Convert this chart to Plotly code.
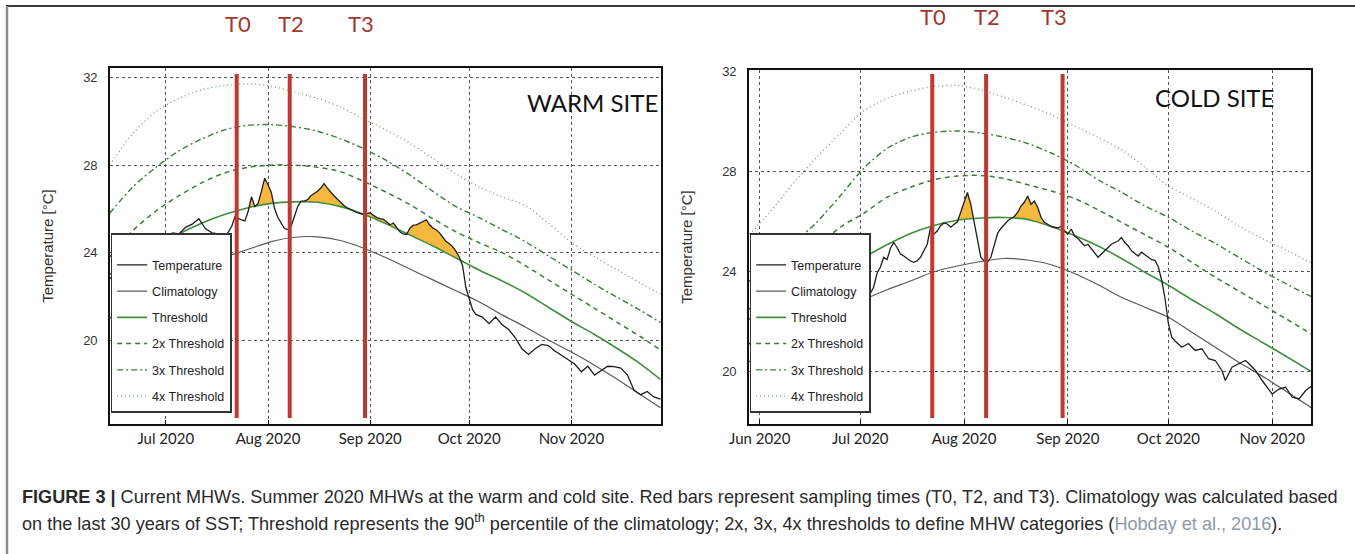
import numpy as np
import plotly.graph_objects as go

# ---------------- WARM SITE ----------------
warm_weeks = ["2020-06-14", "2020-06-21", "2020-06-28", "2020-07-05", "2020-07-12", "2020-07-19",
              "2020-07-26", "2020-08-02", "2020-08-09", "2020-08-16", "2020-08-23", "2020-08-30",
              "2020-09-06", "2020-09-13", "2020-09-20", "2020-09-27", "2020-10-04", "2020-10-11",
              "2020-10-18", "2020-10-25", "2020-11-01", "2020-11-08", "2020-11-15", "2020-11-22",
              "2020-11-28"]
warm_clim = [21.0, 21.8, 22.5, 23.0, 23.45, 23.8, 24.15, 24.5, 24.7, 24.72, 24.55, 24.2, 23.75,
             23.25, 22.75, 22.25, 21.75, 21.15, 20.6, 20.0, 19.45, 18.85, 18.2, 17.5, 16.9]
warm_thresh = [23.0, 23.7, 24.3, 24.85, 25.35, 25.75, 26.05, 26.25, 26.32, 26.3, 26.1, 25.75, 25.3,
               24.8, 24.3, 23.75, 23.2, 22.7, 22.15, 21.5, 20.85, 20.25, 19.6, 18.9, 18.2]
warm_thresh2 = [23.8, 25.0, 25.9, 26.6, 27.2, 27.65, 27.9, 28.0, 28.0, 27.9, 27.7, 27.25, 26.75,
                26.2, 25.55, 24.95, 24.45, 24.0, 23.4, 22.75, 22.1, 21.45, 20.8, 20.15, 19.55]
warm_thresh3 = [25.8, 27.0, 27.9, 28.65, 29.2, 29.62, 29.82, 29.85, 29.75, 29.55, 29.2, 28.75, 28.2,
                27.55, 26.8, 26.1, 25.6, 25.05, 24.5, 23.85, 23.2, 22.55, 21.95, 21.35, 20.8]
warm_thresh4 = [28.0, 29.45, 30.45, 31.05, 31.45, 31.65, 31.72, 31.6, 31.35, 31.05, 30.65, 30.1, 29.6,
                29.0, 28.3, 27.6, 27.0, 26.55, 26.15, 25.35, 24.45, 23.8, 23.2, 22.6, 22.1]

warm_dates = ["2020-06-14", "2020-06-17", "2020-06-20", "2020-06-23", "2020-06-26", "2020-06-29",
              "2020-07-01", "2020-07-03", "2020-07-05", "2020-07-07", "2020-07-09", "2020-07-11",
              "2020-07-13", "2020-07-15", "2020-07-17", "2020-07-19", "2020-07-20", "2020-07-21",
              "2020-07-22", "2020-07-23", "2020-07-24", "2020-07-25", "2020-07-26", "2020-07-27",
              "2020-07-28", "2020-07-29", "2020-07-30", "2020-07-31", "2020-08-01", "2020-08-02",
              "2020-08-03", "2020-08-04", "2020-08-05", "2020-08-06", "2020-08-07", "2020-08-08",
              "2020-08-09", "2020-08-10", "2020-08-11", "2020-08-12", "2020-08-13", "2020-08-14",
              "2020-08-15", "2020-08-16", "2020-08-17", "2020-08-18", "2020-08-19", "2020-08-20",
              "2020-08-21", "2020-08-22", "2020-08-23", "2020-08-24", "2020-08-25", "2020-08-26",
              "2020-08-27", "2020-08-28", "2020-08-29", "2020-08-30", "2020-08-31", "2020-09-01",
              "2020-09-02", "2020-09-03", "2020-09-04", "2020-09-05", "2020-09-06", "2020-09-07",
              "2020-09-08", "2020-09-09", "2020-09-10", "2020-09-11", "2020-09-12", "2020-09-13",
              "2020-09-14", "2020-09-15", "2020-09-16", "2020-09-17", "2020-09-18", "2020-09-19",
              "2020-09-20", "2020-09-21", "2020-09-22", "2020-09-23", "2020-09-24", "2020-09-25",
              "2020-09-26", "2020-09-27", "2020-09-28", "2020-09-29", "2020-09-30", "2020-10-01",
              "2020-10-02", "2020-10-03", "2020-10-05", "2020-10-07", "2020-10-09", "2020-10-11",
              "2020-10-13", "2020-10-15", "2020-10-17", "2020-10-19", "2020-10-21", "2020-10-23",
              "2020-10-25", "2020-10-27", "2020-10-29", "2020-10-31", "2020-11-02", "2020-11-04",
              "2020-11-06", "2020-11-08", "2020-11-10", "2020-11-12", "2020-11-14", "2020-11-16",
              "2020-11-18", "2020-11-20", "2020-11-22", "2020-11-24", "2020-11-26", "2020-11-28"]
warm_temp = [22.8, 23.2, 23.0, 23.6, 24.0, 24.3,
             24.6, 24.9, 24.85, 25.15, 25.3, 25.55,
             25.1, 24.9, 24.85, 24.75, 24.95, 25.2,
             25.65, 25.55, 25.5, 25.45, 25.9, 26.55,
             26.1, 26.25, 26.8, 27.4, 27.1, 26.75,
             26.0, 25.6, 25.35, 25.1, 25.05, 25.2,
             25.65, 26.1, 26.35, 26.35, 26.42, 26.6,
             26.7, 26.8, 26.95, 27.15, 26.95, 26.75,
             26.6, 26.45, 26.3, 26.15, 26.05, 25.97,
             25.9, 25.82, 25.78, 25.74, 25.78, 25.82,
             25.7, 25.6, 25.55, 25.52, 25.4, 25.27,
             25.35, 25.12, 24.95, 24.85, 24.82, 25.1,
             25.25, 25.27, 25.35, 25.42, 25.5, 25.27,
             25.12, 25.04, 24.9, 24.7, 24.5, 24.4,
             24.27, 24.05, 23.8, 23.4, 22.4, 21.9,
             21.4, 21.17, 21.05, 20.75, 21.05, 20.7,
             20.48, 20.1, 19.6, 19.34, 19.6, 19.8,
             19.75, 19.5, 19.3, 19.1, 18.9, 18.55,
             18.8, 18.4, 18.6, 18.8, 18.78, 18.72,
             18.4, 17.7, 17.5, 17.65, 17.4, 17.3]
warm_events = [("2020-07-26", "2020-08-04"), ("2020-08-11", "2020-09-10"), ("2020-09-11", "2020-09-30")]

# ---------------- COLD SITE ----------------
cold_weeks = ["2020-05-28", "2020-06-04", "2020-06-11", "2020-06-18", "2020-06-25", "2020-07-02",
              "2020-07-09", "2020-07-16", "2020-07-23", "2020-07-30", "2020-08-06", "2020-08-13",
              "2020-08-20", "2020-08-27", "2020-09-03", "2020-09-10", "2020-09-17", "2020-09-24",
              "2020-10-01", "2020-10-08", "2020-10-15", "2020-10-22", "2020-10-29", "2020-11-05",
              "2020-11-13"]
cold_clim = [20.3, 20.9, 21.45, 21.95, 22.4, 22.85, 23.25, 23.6, 23.97, 24.2, 24.38, 24.5, 24.44,
             24.25, 23.9, 23.45, 22.95, 22.55, 22.15, 21.55, 20.95, 20.35, 19.8, 19.2, 18.5]
cold_thresh = [22.0, 22.6, 23.2, 23.7, 24.15, 24.55, 25.05, 25.5, 25.82, 26.03, 26.12, 26.14, 26.06,
               25.78, 25.42, 25.0, 24.5, 23.95, 23.43, 22.85, 22.3, 21.7, 21.15, 20.6, 19.95]
cold_thresh2 = [22.4, 23.1, 23.9, 24.9, 25.75, 26.3, 26.95, 27.35, 27.65, 27.8, 27.82, 27.7, 27.45,
                27.2, 26.9, 26.45, 25.95, 25.45, 24.95, 24.35, 23.75, 23.2, 22.65, 22.1, 21.45]
cold_thresh3 = [23.5, 24.3, 25.1, 25.95, 27.0, 28.1, 28.9, 29.35, 29.55, 29.6, 29.52, 29.35, 29.1,
                28.72, 28.25, 27.65, 27.15, 26.6, 26.15, 25.6, 25.1, 24.55, 24.0, 23.5, 22.95]
cold_thresh4 = [25.35, 26.35, 27.5, 28.55, 29.5, 30.4, 30.9, 31.2, 31.38, 31.42, 31.25, 30.95, 30.62,
                30.25, 29.8, 29.35, 28.85, 28.15, 27.4, 26.9, 26.4, 25.8, 25.3, 24.85, 24.3]

cold_dates = ["2020-05-28", "2020-06-01", "2020-06-05", "2020-06-09", "2020-06-13", "2020-06-17",
              "2020-06-21", "2020-06-25", "2020-06-29", "2020-07-02", "2020-07-04", "2020-07-05",
              "2020-07-06", "2020-07-07", "2020-07-08", "2020-07-09", "2020-07-10", "2020-07-11",
              "2020-07-12", "2020-07-13", "2020-07-14", "2020-07-15", "2020-07-16", "2020-07-17",
              "2020-07-18", "2020-07-19", "2020-07-20", "2020-07-21", "2020-07-22", "2020-07-23",
              "2020-07-24", "2020-07-25", "2020-07-26", "2020-07-27", "2020-07-28", "2020-07-29",
              "2020-07-30", "2020-07-31", "2020-08-01", "2020-08-02", "2020-08-03", "2020-08-04",
              "2020-08-05", "2020-08-06", "2020-08-07", "2020-08-08", "2020-08-09", "2020-08-10",
              "2020-08-11", "2020-08-12", "2020-08-13", "2020-08-14", "2020-08-15", "2020-08-16",
              "2020-08-17", "2020-08-18", "2020-08-19", "2020-08-20", "2020-08-21", "2020-08-22",
              "2020-08-23", "2020-08-24", "2020-08-25", "2020-08-26", "2020-08-27", "2020-08-28",
              "2020-08-29", "2020-08-30", "2020-08-31", "2020-09-01", "2020-09-02", "2020-09-03",
              "2020-09-04", "2020-09-05", "2020-09-06", "2020-09-07", "2020-09-08", "2020-09-09",
              "2020-09-10", "2020-09-11", "2020-09-12", "2020-09-13", "2020-09-14", "2020-09-15",
              "2020-09-16", "2020-09-17", "2020-09-18", "2020-09-19", "2020-09-20", "2020-09-21",
              "2020-09-22", "2020-09-23", "2020-09-24", "2020-09-25", "2020-09-26", "2020-09-27",
              "2020-09-28", "2020-09-29", "2020-09-30", "2020-10-01", "2020-10-02", "2020-10-03",
              "2020-10-05", "2020-10-07", "2020-10-09", "2020-10-11", "2020-10-13", "2020-10-15",
              "2020-10-17", "2020-10-18", "2020-10-20", "2020-10-22", "2020-10-24", "2020-10-25",
              "2020-10-27", "2020-10-29", "2020-11-01", "2020-11-03", "2020-11-05", "2020-11-07",
              "2020-11-09", "2020-11-11", "2020-11-13"]
cold_temp = [21.0, 21.4, 21.8, 22.3, 22.1, 22.6,
             22.9, 22.7, 23.0, 23.2, 23.1, 23.35,
             23.9, 24.15, 24.55, 24.45, 24.9, 25.14,
             24.94, 24.68, 24.6, 24.5, 24.4, 24.35,
             24.41, 24.55, 24.8, 25.07, 25.74, 25.48,
             25.6, 25.81, 25.92, 25.88, 25.75, 25.85,
             25.97, 26.35, 26.74, 27.14, 26.67, 26.0,
             25.21, 24.55, 24.41, 24.35, 24.55, 25.07,
             25.5, 25.7, 25.87, 26.0, 26.1, 26.18,
             26.34, 26.6, 26.75, 27.0, 26.67, 26.8,
             26.54, 26.14, 25.95, 25.85, 25.78, 25.75,
             25.72, 25.8, 25.6, 25.48, 25.68, 25.4,
             25.3, 25.15, 25.01, 25.07, 24.9, 24.75,
             24.55, 24.68, 24.8, 24.94, 25.07, 25.14,
             25.2, 25.34, 25.14, 25.0, 24.81, 24.7,
             24.6, 24.75, 24.65, 24.55, 24.45, 24.43,
             24.16, 23.63, 22.9, 21.9, 21.35, 21.2,
             20.95, 21.1, 20.82, 20.89, 20.49, 20.42,
             20.02, 19.62, 20.15, 20.29, 20.42, 20.3,
             20.02, 19.62, 19.08, 19.28, 19.35, 18.95,
             18.88, 19.22, 19.42]
cold_events = [("2020-07-30", "2020-08-05"), ("2020-08-14", "2020-08-26")]

sampling_dates = ["2020-07-22 12:00", "2020-08-07 14:00", "2020-08-30 10:00"]
sampling_labels = ["T0", "T2", "T3"]
y_ticks = [20, 24, 28, 32]

W, H = 1355, 554
GREEN = "#3f8f3f"
GREEN_D = "#3b7d3b"
GREEN_L = "#6a9f6a"
ORANGE = "#f7b83f"
RED = "#c0392f"


def px_x(p):
    return p / W


def px_y(p):
    return 1 - p / H


def to_hours(dates):
    return np.array(dates, dtype="datetime64[h]").astype(np.int64)


def event_polys(dates, temp, weeks, thresh, events):
    th = to_hours(dates)
    wh = to_hours(weeks)
    xs, ys = [], []
    for s, e in events:
        g = np.arange(to_hours([s])[0], to_hours([e])[0] + 1, 2)
        t = np.interp(g, th, temp)
        b = np.interp(g, wh, thresh)
        up = np.maximum(t, b)
        gx = g.astype("datetime64[h]").astype(str).tolist()
        xs += gx + gx[::-1] + [None]
        ys += up.tolist() + b[::-1].tolist() + [None]
    return xs, ys


fig = go.Figure()

panels = [
    dict(xa="x", ya="y", leg="legend", weeks=warm_weeks, clim=warm_clim, th=warm_thresh,
         th2=warm_thresh2, th3=warm_thresh3, th4=warm_thresh4, dates=warm_dates, temp=warm_temp,
         events=warm_events, tag="w"),
    dict(xa="x2", ya="y2", leg="legend2", weeks=cold_weeks, clim=cold_clim, th=cold_thresh,
         th2=cold_thresh2, th3=cold_thresh3, th4=cold_thresh4, dates=cold_dates, temp=cold_temp,
         events=cold_events, tag="c"),
]

for p in panels:
    fx, fy = event_polys(p["dates"], p["temp"], p["weeks"], p["th"], p["events"])
    fig.add_trace(go.Scatter(x=fx, y=fy, xaxis=p["xa"], yaxis=p["ya"], fill="toself",
                             fillcolor=ORANGE, line=dict(width=0), mode="lines",
                             showlegend=False, hoverinfo="skip"))
    specs = [
        ("4x Threshold", p["th4"], dict(color=GREEN_L, width=1.3, dash="1px,3px"), 6),
        ("3x Threshold", p["th3"], dict(color=GREEN_D, width=1.4, dash="6px,3px,2px,3px"), 5),
        ("2x Threshold", p["th2"], dict(color=GREEN_D, width=1.5, dash="5px,4px"), 4),
        ("Threshold", p["th"], dict(color=GREEN, width=1.6), 3),
        ("Climatology", p["clim"], dict(color="#5a5a5a", width=1.2), 2),
    ]
    for name, vals, line, rank in specs:
        line = dict(line, shape="spline", smoothing=0.8)
        fig.add_trace(go.Scatter(x=p["weeks"], y=vals, xaxis=p["xa"], yaxis=p["ya"], mode="lines",
                                 name=name, line=line, legend=p["leg"], legendrank=rank,
                                 legendgroup=p["tag"] + name))
    fig.add_trace(go.Scatter(x=p["dates"], y=p["temp"], xaxis=p["xa"], yaxis=p["ya"], mode="lines",
                             name="Temperature", line=dict(color="#1e1e1e", width=1.3),
                             legend=p["leg"], legendrank=1, legendgroup=p["tag"] + "Temperature"))

shapes = []
annotations = []
label_y = {"x": 23, "x2": 17}
bar_dom = {"x": (0.017, 0.983), "x2": (0.017, 0.989)}
t3_shift = {"x": -4, "x2": -9}
for xa, ya in [("x", "y"), ("x2", "y2")]:
    for d, lab in zip(sampling_dates, sampling_labels):
        shapes.append(dict(type="line", xref=xa, yref=ya + " domain", x0=d, x1=d,
                           y0=bar_dom[xa][0], y1=bar_dom[xa][1],
                           line=dict(color=RED, width=4), layer="above"))
        annotations.append(dict(xref=xa, yref="paper", x=d, y=px_y(label_y[xa]), text=lab,
                                xanchor="center", yanchor="middle", showarrow=False,
                                xshift=t3_shift[xa] if lab == "T3" else 1,
                                font=dict(family="Lato", size=22, color="#a3372d")))

# outer frame of the figure
shapes.append(dict(type="line", xref="paper", yref="paper", x0=px_x(6), x1=1.01,
                   y0=px_y(6), y1=px_y(6), line=dict(color="#3a3a3a", width=2)))
shapes.append(dict(type="line", xref="paper", yref="paper", x0=px_x(7), x1=px_x(7),
                   y0=px_y(6), y1=-0.01, line=dict(color="#8a8a8a", width=2.5)))

annotations.append(dict(xref="paper", yref="paper", x=px_x(592), y=px_y(103), text="WARM SITE",
                        xanchor="center", yanchor="middle", showarrow=False,
                        font=dict(family="Lato", size=24, color="#111")))
annotations.append(dict(xref="paper", yref="paper", x=px_x(1214), y=px_y(97), text="COLD SITE",
                        xanchor="center", yanchor="middle", showarrow=False,
                        font=dict(family="Lato", size=24, color="#111")))

cap1 = ("<b>FIGURE 3 |</b> Current MHWs. Summer 2020 MHWs at the warm and cold site. Red bars represent "
        "sampling times (T0, T2, and T3). Climatology was calculated based")
cap2 = ("on the last 30 years of SST; Threshold represents the 90<sup>th</sup> percentile of the "
        "climatology; 2x, 3x, 4x thresholds to define MHW categories "
        "(<span style='color:#8d9aa6'>Hobday et al., 2016</span>).")
annotations.append(dict(xref="paper", yref="paper", x=px_x(20), y=px_y(497), xanchor="left",
                        yanchor="middle", text=cap1, showarrow=False, align="left",
                        font=dict(family="Liberation Sans", size=18.1, color="#2a2a2a")))
annotations.append(dict(xref="paper", yref="paper", x=px_x(20), y=px_y(522), xanchor="left",
                        yanchor="middle", text=cap2, showarrow=False, align="left",
                        font=dict(family="Liberation Sans", size=18.1, color="#2a2a2a")))

xcommon = dict(showgrid=True, gridcolor="#555", griddash="dot", gridwidth=1, showline=True,
               linecolor="#111", linewidth=1.6, mirror=True, ticks="inside", ticklen=4,
               tickcolor="#111", tickformat="%b %Y", dtick="M1", tick0="2020-06-01",
               tickfont=dict(family="Lato", size=15, color="#222"), ticklabelstandoff=0,
               zeroline=False, type="date", automargin=False)
ycommon = dict(showgrid=True, gridcolor="#555", griddash="dot", gridwidth=1, showline=True,
               linecolor="#111", linewidth=1.6, mirror=True, ticks="", tickvals=y_ticks,
               tickfont=dict(family="Liberation Sans", size=13, color="#333"),
               ticklabelstandoff=8, zeroline=False, automargin=False,
               title=dict(text="Temperature [°C]", standoff=26,
                          font=dict(family="Liberation Sans", size=15, color="#333")))

legcommon = dict(bgcolor="white", bordercolor="#333", borderwidth=1.6, xanchor="left", yanchor="top",
                 font=dict(family="Liberation Sans Narrow, Liberation Sans", size=12.5, color="#222"),
                 tracegroupgap=7, traceorder="grouped",
                 title=dict(text="\u00a0", font=dict(size=12)))

fig.update_layout(
    width=W, height=H, autosize=False,
    margin=dict(l=0, r=0, t=0, b=0, autoexpand=False),
    paper_bgcolor="white", plot_bgcolor="white",
    showlegend=True,
    xaxis=dict(xcommon, domain=[px_x(110), px_x(661)],
               range=["2020-06-14 02:00", "2020-11-28 04:00"], anchor="y"),
    yaxis=dict(ycommon, domain=[px_y(424), px_y(68)], range=[16.16, 32.44], anchor="x"),
    xaxis2=dict(xcommon, domain=[px_x(749), px_x(1311)],
                range=["2020-05-28 19:00", "2020-11-12 14:00"], anchor="y2"),
    yaxis2=dict(ycommon, domain=[px_y(424), px_y(70)], range=[17.88, 32.04], anchor="x2"),
    legend=dict(legcommon, x=px_x(110.5), y=px_y(233)),
    legend2=dict(legcommon, x=px_x(749.5), y=px_y(233)),
    shapes=shapes, annotations=annotations,
)

fig.write_html("out.html")
